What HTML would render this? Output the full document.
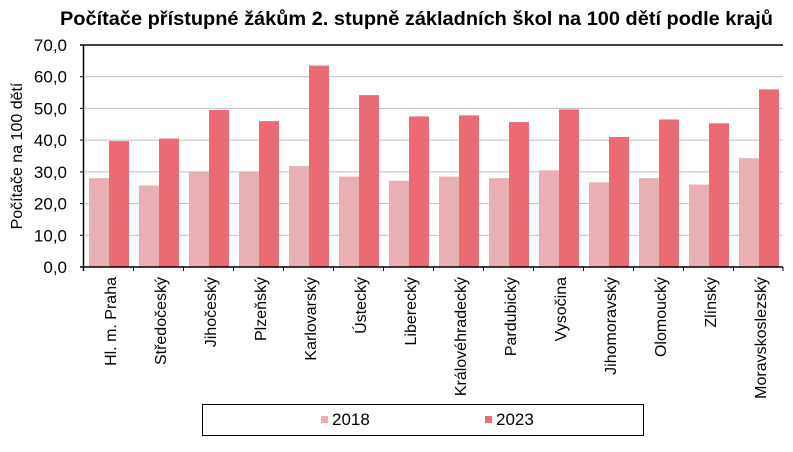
<!DOCTYPE html><html><head><meta charset="utf-8"><style>body{margin:0;background:#fff}</style></head><body>
<svg width="793" height="447" xmlns="http://www.w3.org/2000/svg" font-family="Liberation Sans, Arial, sans-serif">
<rect width="793" height="447" fill="#fff"/>
<text x="60" y="25" font-size="19.5" font-weight="bold" textLength="713" lengthAdjust="spacingAndGlyphs">Počítače přístupné žákům 2. stupně základních škol na 100 dětí podle krajů</text>
<g stroke="#bfbfbf" stroke-width="1">
<line x1="83" x2="783" y1="235.3" y2="235.3"/><line x1="83" x2="783" y1="203.6" y2="203.6"/><line x1="83" x2="783" y1="171.9" y2="171.9"/><line x1="83" x2="783" y1="140.1" y2="140.1"/><line x1="83" x2="783" y1="108.4" y2="108.4"/><line x1="83" x2="783" y1="76.7" y2="76.7"/>
</g>
<line x1="80" x2="783" y1="45" y2="45" stroke="#000" stroke-width="1.5"/>
<g font-size="17" text-anchor="end"><text x="67" y="273">0,0</text><text x="67" y="241.3">10,0</text><text x="67" y="209.6">20,0</text><text x="67" y="177.9">30,0</text><text x="67" y="146.1">40,0</text><text x="67" y="114.4">50,0</text><text x="67" y="82.7">60,0</text><text x="67" y="51">70,0</text></g>
<text transform="translate(22,156) rotate(-90)" text-anchor="middle" font-size="16">Počítače na 100 dětí</text>
<g fill="#e8b0b4">
<rect x="89" y="178.2" width="20" height="88.8"/>
<rect x="139" y="185.5" width="20" height="81.5"/>
<rect x="189" y="171.9" width="20" height="95.1"/>
<rect x="239" y="171.9" width="20" height="95.1"/>
<rect x="289" y="166.1" width="20" height="100.9"/>
<rect x="339" y="176.6" width="20" height="90.4"/>
<rect x="389" y="180.7" width="20" height="86.3"/>
<rect x="439" y="176.6" width="20" height="90.4"/>
<rect x="489" y="178.2" width="20" height="88.8"/>
<rect x="539" y="170.3" width="20" height="96.7"/>
<rect x="589" y="182.3" width="20" height="84.7"/>
<rect x="639" y="178.2" width="20" height="88.8"/>
<rect x="689" y="184.5" width="20" height="82.5"/>
<rect x="739" y="158.2" width="20" height="108.8"/>
</g>
<g fill="#ea6b73">
<rect x="109" y="141.1" width="20" height="125.9"/>
<rect x="159" y="138.6" width="20" height="128.4"/>
<rect x="209" y="110" width="20" height="157"/>
<rect x="259" y="121.1" width="20" height="145.9"/>
<rect x="309" y="65.6" width="20" height="201.4"/>
<rect x="359" y="95.1" width="20" height="171.9"/>
<rect x="409" y="116.4" width="20" height="150.6"/>
<rect x="459" y="115.4" width="20" height="151.6"/>
<rect x="509" y="122.1" width="20" height="144.9"/>
<rect x="559" y="109.4" width="20" height="157.6"/>
<rect x="609" y="137" width="20" height="130"/>
<rect x="659" y="119.5" width="20" height="147.5"/>
<rect x="709" y="123.3" width="20" height="143.7"/>
<rect x="759" y="89.4" width="20" height="177.6"/>
</g>
<line x1="83.5" x2="83.5" y1="45" y2="271" stroke="#000" stroke-width="1.5"/>
<line x1="80" x2="783" y1="267" y2="267" stroke="#000" stroke-width="1.5"/>
<g stroke="#000">
<line x1="80" x2="83" y1="235.3" y2="235.3"/><line x1="80" x2="83" y1="203.6" y2="203.6"/><line x1="80" x2="83" y1="171.9" y2="171.9"/><line x1="80" x2="83" y1="140.1" y2="140.1"/><line x1="80" x2="83" y1="108.4" y2="108.4"/><line x1="80" x2="83" y1="76.7" y2="76.7"/>
<line x1="133.5" x2="133.5" y1="267" y2="271"/><line x1="183.5" x2="183.5" y1="267" y2="271"/><line x1="233.5" x2="233.5" y1="267" y2="271"/><line x1="283.5" x2="283.5" y1="267" y2="271"/><line x1="333.5" x2="333.5" y1="267" y2="271"/><line x1="383.5" x2="383.5" y1="267" y2="271"/><line x1="433.5" x2="433.5" y1="267" y2="271"/><line x1="483.5" x2="483.5" y1="267" y2="271"/><line x1="533.5" x2="533.5" y1="267" y2="271"/><line x1="583.5" x2="583.5" y1="267" y2="271"/><line x1="633.5" x2="633.5" y1="267" y2="271"/><line x1="683.5" x2="683.5" y1="267" y2="271"/><line x1="733.5" x2="733.5" y1="267" y2="271"/><line x1="783" x2="783" y1="267" y2="271"/>
</g>
<g font-size="16" text-anchor="end">
<text transform="translate(116,277) rotate(-90)">Hl. m. Praha</text>
<text transform="translate(166,277) rotate(-90)">Středočeský</text>
<text transform="translate(216,277) rotate(-90)">Jihočeský</text>
<text transform="translate(266,277) rotate(-90)">Plzeňský</text>
<text transform="translate(316,277) rotate(-90)">Karlovarský</text>
<text transform="translate(366,277) rotate(-90)">Ústecký</text>
<text transform="translate(416,277) rotate(-90)">Liberecký</text>
<text transform="translate(466,277) rotate(-90)">Královéhradecký</text>
<text transform="translate(516,277) rotate(-90)">Pardubický</text>
<text transform="translate(566,277) rotate(-90)">Vysočina</text>
<text transform="translate(616,277) rotate(-90)">Jihomoravský</text>
<text transform="translate(666,277) rotate(-90)">Olomoucký</text>
<text transform="translate(716,277) rotate(-90)">Zlínský</text>
<text transform="translate(766,277) rotate(-90)">Moravskoslezský</text>
</g>
<rect x="202.5" y="404.5" width="441" height="31" fill="none" stroke="#000"/>
<rect x="321" y="416" width="7" height="7" fill="#e8b0b4"/><text x="332" y="425" font-size="17">2018</text>
<rect x="485" y="416" width="7" height="7" fill="#ea6b73"/><text x="496" y="425" font-size="17">2023</text>
</svg></body></html>
